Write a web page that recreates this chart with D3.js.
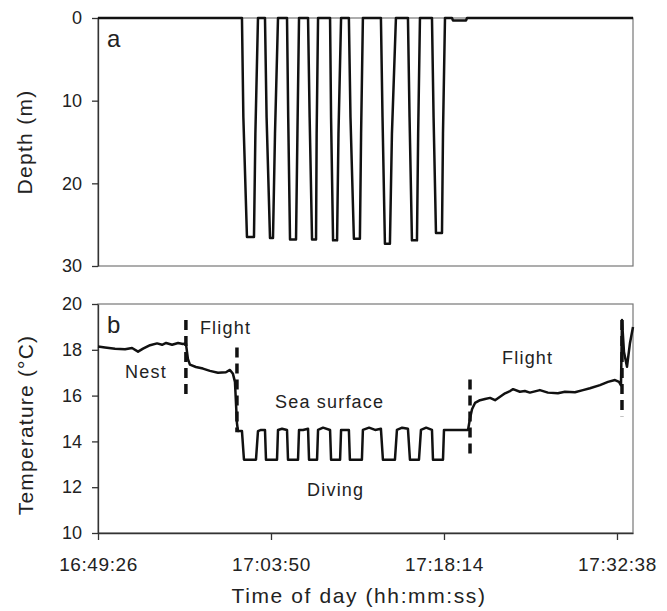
<!DOCTYPE html>
<html>
<head>
<meta charset="utf-8">
<script src="https://cdn.jsdelivr.net/npm/d3@7"></script>
<style>
  body { margin: 0; background: #fff; }
  text { font-family: "Liberation Sans", Arial, Helvetica, sans-serif; fill: #222; }
</style>
</head>
<body>
<div id="view"></div>
<script>
var width = 667, height = 611;

// x axis
var timeStart = "16:49:26", timeEnd = "17:33:58";
var timeTicks = ["16:49:26", "17:03:50", "17:18:14", "17:32:38"];
var depthTicks = [0, 10, 20, 30];
var tempTicks = [10, 12, 14, 16, 18, 20];

// panel a : depth (m)
var depthPoints = [
  ["16:49:26", 0],
  ["17:01:25", 0], ["17:01:32", 12], ["17:01:50", 26.5], ["17:02:25", 26.5], ["17:02:32", 14], ["17:02:45", 0],
  ["17:03:20", 0], ["17:03:28", 12], ["17:03:45", 26.6], ["17:04:00", 26.6], ["17:04:10", 14], ["17:04:25", 0],
  ["17:05:10", 0], ["17:05:16", 12], ["17:05:25", 26.8], ["17:05:55", 26.8], ["17:06:02", 14], ["17:06:10", 0],
  ["17:06:55", 0], ["17:07:03", 12], ["17:07:15", 26.8], ["17:07:35", 26.8], ["17:07:38", 14], ["17:07:45", 0],
  ["17:08:45", 0], ["17:08:50", 12], ["17:09:00", 26.9], ["17:09:20", 26.9], ["17:09:27", 14], ["17:09:40", 0],
  ["17:10:19", 0], ["17:10:27", 12], ["17:10:44", 26.7], ["17:11:14", 26.7], ["17:11:20", 14], ["17:11:29", 0],
  ["17:12:59", 0], ["17:13:07", 12], ["17:13:19", 27.3], ["17:13:44", 27.3], ["17:13:54", 14], ["17:14:14", 0],
  ["17:15:14", 0], ["17:15:22", 12], ["17:15:34", 26.9], ["17:15:59", 26.9], ["17:16:05", 14], ["17:16:14", 0],
  ["17:17:14", 0], ["17:17:22", 12], ["17:17:34", 26.0], ["17:18:04", 26.0], ["17:18:09", 14], ["17:18:19", 0],
  ["17:18:54", 0], ["17:18:59", 0.3], ["17:20:04", 0.3], ["17:20:09", 0],
  ["17:33:58", 0]
];

// panel b : temperature (°C)
var tempPoints = [
  ["16:49:26", 18.14], ["16:50:01", 18.10], ["16:50:51", 18.05], ["16:51:41", 18.02], ["16:52:16", 18.08],
  ["16:52:46", 17.92], ["16:53:11", 18.05], ["16:53:46", 18.20], ["16:54:21", 18.28], ["16:54:46", 18.22],
  ["16:55:06", 18.30], ["16:55:36", 18.22], ["16:56:06", 18.30], ["16:56:30", 18.25], ["16:56:45", 18.28],
  ["16:56:55", 17.60], ["16:57:05", 17.35], ["16:57:35", 17.25], ["16:58:10", 17.18], ["16:58:45", 17.08],
  ["16:59:25", 17.00], ["17:00:05", 17.02], ["17:00:25", 17.12], ["17:00:40", 16.95], ["17:00:50", 16.60],
  ["17:01:00", 14.80], ["17:01:05", 14.45],
  ["17:01:25", 14.45], ["17:01:35", 13.2], ["17:02:35", 13.2], ["17:02:45", 14.45], ["17:03:00", 14.5],
  ["17:03:20", 14.5], ["17:03:25", 13.2], ["17:04:20", 13.2], ["17:04:25", 14.5], ["17:04:45", 14.55],
  ["17:05:10", 14.5], ["17:05:15", 13.2], ["17:06:05", 13.2], ["17:06:10", 14.5], ["17:06:30", 14.5],
  ["17:06:55", 14.55], ["17:07:00", 13.2], ["17:07:40", 13.2], ["17:07:45", 14.5], ["17:08:10", 14.6],
  ["17:08:45", 14.5], ["17:08:50", 13.2], ["17:09:35", 13.2], ["17:09:40", 14.5], ["17:10:00", 14.5],
  ["17:10:19", 14.5], ["17:10:24", 13.2], ["17:11:24", 13.2], ["17:11:29", 14.5], ["17:12:00", 14.6], ["17:12:30", 14.5],
  ["17:12:59", 14.55], ["17:13:09", 13.2], ["17:14:09", 13.2], ["17:14:19", 14.5], ["17:14:45", 14.6],
  ["17:15:14", 14.55], ["17:15:24", 13.2], ["17:16:09", 13.2], ["17:16:19", 14.5], ["17:16:45", 14.6],
  ["17:17:14", 14.5], ["17:17:19", 13.2], ["17:18:09", 13.2], ["17:18:14", 14.5],
  ["17:20:14", 14.5], ["17:20:24", 15.0], ["17:20:34", 15.4], ["17:20:49", 15.68], ["17:21:14", 15.8],
  ["17:21:39", 15.85], ["17:22:04", 15.9], ["17:22:29", 15.8], ["17:22:54", 15.95], ["17:23:19", 16.1],
  ["17:23:44", 16.2], ["17:23:59", 16.28], ["17:24:33", 16.17], ["17:24:58", 16.2], ["17:25:23", 16.13],
  ["17:26:13", 16.24], ["17:26:53", 16.13], ["17:27:43", 16.1], ["17:28:18", 16.17], ["17:29:08", 16.15],
  ["17:29:48", 16.24], ["17:30:23", 16.32], ["17:31:13", 16.46], ["17:31:53", 16.6], ["17:32:28", 16.68],
  ["17:32:48", 16.6], ["17:32:58", 16.45], ["17:33:03", 19.3], ["17:33:13", 17.9], ["17:33:28", 17.26],
  ["17:33:43", 18.3], ["17:33:58", 19.0]
];

// phase boundaries (time, from °C, to °C)
var phaseLines = [
  ["16:56:45", 16.0, 19.3],
  ["17:01:00", 14.4, 18.1],
  ["17:20:24", 13.4, 16.7],
  ["17:33:03", 15.1, 19.3]
];

// phase labels (text, time, °C)
var phaseLabels = [
  ["Nest", "16:51:41", 16.77],
  ["Flight", "16:57:55", 18.69],
  ["Sea surface", "17:04:10", 15.46],
  ["Diving", "17:06:50", 11.62],
  ["Flight", "17:23:04", 17.38]
];

var parse = d3.timeParse("%H:%M:%S");
var fmt = d3.timeFormat("%H:%M:%S");

var svg = d3.select("#view").append("svg")
  .attr("width", width)
  .attr("height", height);

var left = 98, right = 633;
var x = d3.scaleTime()
  .domain([parse(timeStart), parse(timeEnd)])
  .range([left, right]);

var yDepth = d3.scaleLinear().domain([0, 30]).range([18, 266]);
var yTemp = d3.scaleLinear().domain([10, 20]).range([533, 304]);

// frames
[[yDepth.range()[0], yDepth.range()[1]], [yTemp.range()[1], yTemp.range()[0]]].forEach(function(r) {
  svg.append("rect")
    .attr("x", left).attr("y", r[0])
    .attr("width", right - left).attr("height", r[1] - r[0])
    .attr("fill", "none")
    .attr("stroke", "#777")
    .attr("stroke-width", 1.2);
});

function styleAxis(g) {
  g.select(".domain").attr("stroke", "#333").attr("stroke-width", 1.3);
  g.selectAll(".tick line").attr("stroke", "#333").attr("stroke-width", 1.3);
  g.selectAll(".tick text")
    .attr("fill", "#222")
    .style("font-size", "18px")
    .style("font-family", "'Liberation Sans', Arial, sans-serif");
}

// y axes
svg.append("g")
  .attr("transform", "translate(" + left + ",0)")
  .call(d3.axisLeft(yDepth).tickValues(depthTicks).tickSize(6).tickPadding(10).tickSizeOuter(0))
  .call(styleAxis);

svg.append("g")
  .attr("transform", "translate(" + left + ",0)")
  .call(d3.axisLeft(yTemp).tickValues(tempTicks).tickSize(6).tickPadding(10).tickSizeOuter(0))
  .call(styleAxis);

// x axis
var xg = svg.append("g")
  .attr("transform", "translate(0," + yTemp.range()[0] + ")")
  .call(d3.axisBottom(x).tickValues(timeTicks.map(parse)).tickFormat(fmt)
    .tickSize(7).tickPadding(18).tickSizeOuter(0))
  .call(styleAxis);
xg.selectAll(".tick text").style("font-size", "19px").style("letter-spacing", "0.6px");

// data lines
var depthLine = d3.line()
  .x(function(d) { return x(parse(d[0])); })
  .y(function(d) { return yDepth(d[1]); });

var tempLine = d3.line()
  .x(function(d) { return x(parse(d[0])); })
  .y(function(d) { return yTemp(d[1]); });

svg.append("path")
  .datum(depthPoints)
  .attr("d", depthLine)
  .attr("fill", "none")
  .attr("stroke", "#111")
  .attr("stroke-width", 2.5)
  .attr("stroke-linejoin", "round");

svg.append("path")
  .datum(tempPoints)
  .attr("d", tempLine)
  .attr("fill", "none")
  .attr("stroke", "#111")
  .attr("stroke-width", 2.5)
  .attr("stroke-linejoin", "round");

// dashed phase boundaries
svg.selectAll(".phase")
  .data(phaseLines).enter()
  .append("line")
  .attr("class", "phase")
  .attr("x1", function(d) { return x(parse(d[0])); })
  .attr("x2", function(d) { return x(parse(d[0])); })
  .attr("y1", function(d) { return yTemp(d[2]); })
  .attr("y2", function(d) { return yTemp(d[1]); })
  .attr("stroke", "#111")
  .attr("stroke-width", 3.5)
  .attr("stroke-dasharray", "10,6");

// phase labels
svg.selectAll(".plabel")
  .data(phaseLabels).enter()
  .append("text")
  .attr("class", "plabel")
  .attr("x", function(d) { return x(parse(d[1])); })
  .attr("y", function(d) { return yTemp(d[2]); })
  .style("font-size", "18px")
  .style("letter-spacing", "1.2px")
  .text(function(d) { return d[0]; });

// panel letters
svg.append("text").attr("x", left + 9).attr("y", 47).style("font-size", "24px").text("a");
svg.append("text").attr("x", left + 9).attr("y", 333).style("font-size", "24px").text("b");

// axis titles
svg.append("text")
  .attr("transform", "translate(32,142) rotate(-90)")
  .attr("text-anchor", "middle")
  .style("font-size", "21px")
  .style("letter-spacing", "1.3px")
  .text("Depth (m)");

svg.append("text")
  .attr("transform", "translate(33,425) rotate(-90)")
  .attr("text-anchor", "middle")
  .style("font-size", "21px")
  .style("letter-spacing", "1.2px")
  .text("Temperature (°C)");

svg.append("text")
  .attr("x", 359).attr("y", 603)
  .attr("text-anchor", "middle")
  .style("font-size", "21px")
  .style("letter-spacing", "1.6px")
  .text("Time of day (hh:mm:ss)");
</script>
</body>
</html>
